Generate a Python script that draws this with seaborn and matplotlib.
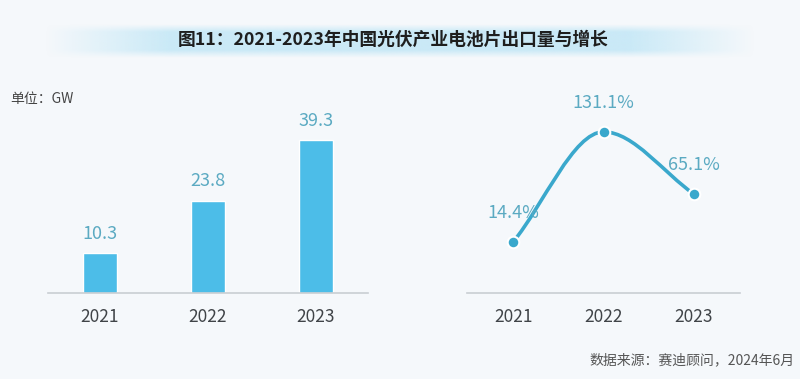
import numpy as np
import pandas as pd
import matplotlib
matplotlib.use("Agg")
import matplotlib.pyplot as plt
from matplotlib.path import Path
from matplotlib.patches import PathPatch
import seaborn as sns

# data
years = ["2021", "2022", "2023"]
volume_gw = [10.3, 23.8, 39.3]
growth_pct = [14.4, 131.1, 65.1]

title = "图11：2021-2023年中国光伏产业电池片出口量与增长"
unit_text = "单位：GW"
source_text = "数据来源：赛迪顾问，2024年6月"

# colours
bg = "#F5F8FB"
bar_color = "#4CBDE8"
line_color = "#3AA8CC"
label_color = "#5BAAC2"
tick_color = "#404448"
axis_color = "#C9CED3"

sns.set_theme(style="white")
plt.rcParams["font.family"] = ["Noto Sans CJK SC", "DejaVu Sans"]

fig = plt.figure(figsize=(8, 3.79), dpi=100, facecolor=bg)

# background layer for title band
bg_ax = fig.add_axes([0, 0, 1, 1], zorder=-5)
bg_ax.set_xlim(0, 800)
bg_ax.set_ylim(379, 0)
bg_ax.axis("off")
gx = np.linspace(-1, 1, 400)
gy = np.linspace(-1, 1, 40)
fx = np.clip((1 - np.abs(gx)) / 0.35, 0, 1)
fy = np.clip((1 - np.abs(gy)) / 0.45, 0, 1)
alpha = np.outer(fy, fx) * 0.95
band = np.zeros((len(gy), len(gx), 4))
band[..., :3] = matplotlib.colors.to_rgb("#C8E9F7")
band[..., 3] = alpha
bg_ax.imshow(band, extent=[45, 755, 58, 24], aspect="auto", interpolation="bilinear")
bg_ax.text(393, 40, title, ha="center", va="center", fontsize=12.8,
           fontweight="bold", color="#1E1E1E")
bg_ax.text(10, 99, unit_text, ha="left", va="center", fontsize=10, color="#444444")
bg_ax.text(795, 360, source_text, ha="right", va="center", fontsize=10, color="#555555")

df = pd.DataFrame({"year": years, "volume": volume_gw, "growth": growth_pct})

# left: bars
ax1 = fig.add_axes([0.06, 0.227, 0.40, 0.615])
ax1.set_facecolor("none")
sns.barplot(data=df, x="year", y="volume", color=bar_color, saturation=1,
            width=0.315, ax=ax1)
ax1.set_xlim(-0.481, 2.481)
ax1.set_ylim(0, 60)
for i, v in enumerate(volume_gw):
    ax1.annotate(f"{v}", (i, v), xytext=(0, 14), textcoords="offset points",
                 ha="center", va="center", fontsize=13, color=label_color,
                 fontweight="light")

# right: smooth growth line
ax2 = fig.add_axes([0.584, 0.227, 0.341, 0.615])
ax2.set_facecolor("none")
xs = np.arange(len(growth_pct), dtype=float)
ys = np.array(growth_pct)
slopes = np.array([ys[1] - ys[0], 0.0, ys[2] - ys[1]])
verts = [(xs[0], ys[0])]
codes = [Path.MOVETO]
for k in range(len(xs) - 1):
    verts += [(xs[k] + 1 / 3, ys[k] + slopes[k] / 3),
              (xs[k + 1] - 1 / 3, ys[k + 1] - slopes[k + 1] / 3),
              (xs[k + 1], ys[k + 1])]
    codes += [Path.CURVE4] * 3
ax2.add_patch(PathPatch(Path(verts, codes), facecolor="none", edgecolor=line_color,
                        lw=2.6, capstyle="round", zorder=2))
sns.scatterplot(x=xs, y=ys, s=70, color=line_color, edgecolor="white",
                linewidth=1.5, zorder=3, ax=ax2)
ax2.set_xlim(-0.508, 2.508)
ax2.set_ylim(-39.7, 207.4)
ax2.set_xticks(xs)
ax2.set_xticklabels(years)
for i, v in enumerate(growth_pct):
    ax2.annotate(f"{v}%", (i, v), xytext=(0, 21), textcoords="offset points",
                 ha="center", va="center", fontsize=13, color=label_color,
                 fontweight="light")

for ax in (ax1, ax2):
    sns.despine(ax=ax, left=True)
    ax.spines["bottom"].set_color(axis_color)
    ax.spines["bottom"].set_linewidth(1.2)
    ax.set_yticks([])
    ax.set_xlabel("")
    ax.set_ylabel("")
    ax.tick_params(axis="x", length=0, pad=11, labelsize=12.5, labelcolor=tick_color)

fig.savefig("out.png", dpi=100, facecolor=bg)
